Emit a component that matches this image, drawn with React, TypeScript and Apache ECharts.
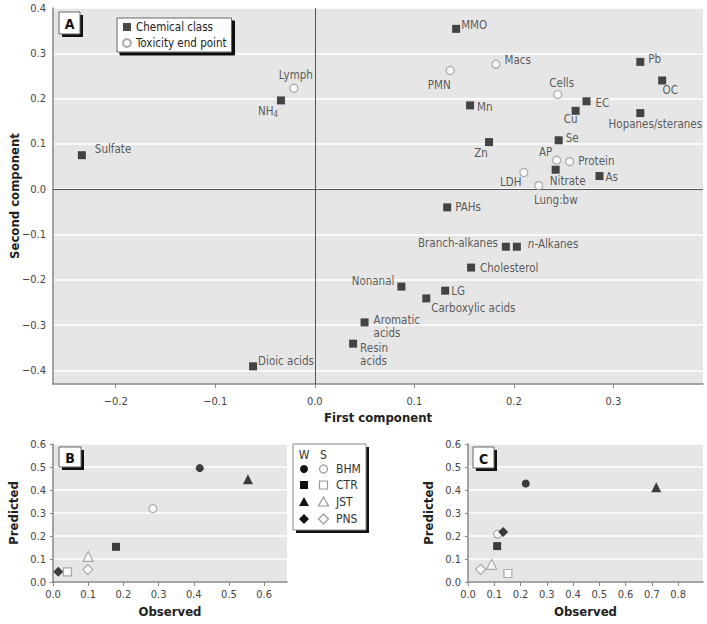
import React, { useEffect, useRef } from "react";
import * as echarts from "echarts";

const FONT = "'DejaVu Sans Condensed', 'DejaVu Sans', sans-serif";

// ---------- Panel A data ----------
const chemNames = ["MMO", "Pb", "OC", "EC", "Cu", "Hopanes/steranes", "Mn", "Zn", "Se", "Nitrate", "As", "PAHs", "NH4", "Sulfate", "Branch-alkanes", "n-Alkanes", "Cholesterol", "Nonanal", "LG", "Carboxylic acids", "Aromatic acids", "Resin acids", "Dioic acids"];
const chemX = [0.142, 0.327, 0.349, 0.273, 0.262, 0.327, 0.156, 0.175, 0.245, 0.242, 0.286, 0.133, -0.034, -0.234, 0.192, 0.203, 0.157, 0.087, 0.131, 0.112, 0.05, 0.0385, -0.062];
const chemY = [0.354, 0.281, 0.24, 0.194, 0.173, 0.168, 0.185, 0.104, 0.108, 0.043, 0.029, -0.04, 0.196, 0.075, -0.127, -0.127, -0.173, -0.215, -0.224, -0.241, -0.294, -0.341, -0.391];
const toxNames = ["Macs", "PMN", "Cells", "AP", "Protein", "LDH", "Lung:bw", "Lymph"];
const toxX = [0.182, 0.136, 0.244, 0.243, 0.256, 0.21, 0.225, -0.021];
const toxY = [0.276, 0.262, 0.209, 0.064, 0.061, 0.037, 0.008, 0.223];

// ---------- Panels B and C data ----------
const sites = ["BHM", "CTR", "JST", "PNS"];
const bWinterObs = [0.417, 0.179, 0.554, 0.015];
const bWinterPred = [0.495, 0.153, 0.447, 0.045];
const bSummerObs = [0.284, 0.041, 0.1, 0.099];
const bSummerPred = [0.319, 0.044, 0.111, 0.054];
const cWinterObs = [0.22, 0.111, 0.717, 0.134];
const cWinterPred = [0.428, 0.156, 0.412, 0.217];
const cSummerObs = [0.113, 0.152, 0.09, 0.048];
const cSummerPred = [0.208, 0.037, 0.077, 0.055];

// ---------- Tick values ----------
const aXTicks = [-0.2, -0.1, 0, 0.1, 0.2, 0.3];
const aYTicks = [-0.4, -0.3, -0.2, -0.1, 0, 0.1, 0.2, 0.3, 0.4];
const bXTicks = [0, 0.1, 0.2, 0.3, 0.4, 0.5, 0.6];
const cXTicks = [0, 0.1, 0.2, 0.3, 0.4, 0.5, 0.6, 0.7, 0.8];
const bcYTicks = [0, 0.1, 0.2, 0.3, 0.4, 0.5, 0.6];

// ---------- styling lookups (label placement) ----------
const labelPlace: Record<string, [string, number, number]> = {
  MMO: ["right", -2, -4],
  Pb: ["right", 1, -3],
  OC: ["bottom", 8, -4],
  EC: ["right", 2, 2],
  Cu: ["bottom", -5, -5],
  "Hopanes/steranes": ["bottom", 15, -2],
  Mn: ["right", 0, 2],
  Zn: ["bottom", -8, -2],
  Se: ["right", 0, -2],
  Nitrate: ["bottom", 12, -2],
  As: ["right", -1, 1],
  PAHs: ["right", 1, 0],
  NH4: ["bottom", -13, -3],
  Sulfate: ["right", 6, -6],
  "Branch-alkanes": ["left", -1, -4],
  "n-Alkanes": ["right", 4, -3],
  Cholesterol: ["right", 2, 0],
  Nonanal: ["left", 0, -6],
  LG: ["right", -1, 0],
  "Carboxylic acids": ["right", -2, 10],
  "Aromatic acids": ["right", 2, 4],
  "Resin acids": ["right", 0, 11],
  "Dioic acids": ["right", -2, -5],
  Macs: ["right", 1, -4],
  PMN: ["bottom", -11, 1],
  Cells: ["top", 4, 2],
  AP: ["top", -11, 6],
  Protein: ["right", 1, -1],
  LDH: ["bottom", -13, -4],
  "Lung:bw": ["bottom", 17, 1],
  Lymph: ["top", 2, 1],
};
const labelText: Record<string, string> = {
  NH4: "NH{sub|4}",
  "n-Alkanes": "{it|n}-Alkanes",
  "Aromatic acids": "Aromatic\nacids",
  "Resin acids": "Resin\nacids",
};

const siteSymbol: Record<string, string> = { BHM: "circle", CTR: "rect", JST: "triangle", PNS: "diamond" };
const siteSize: Record<string, number> = { BHM: 8, CTR: 8, JST: 10, PNS: 10 };

const fmt = (v: number) => (v < 0 ? "\u2212" : "") + Math.abs(v).toFixed(1);

function labelFor(n: string) {
  const p = labelPlace[n] || ["right", 0, 0];
  return { position: p[0], offset: [p[1], p[2]], distance: 3 };
}

const LBL = 11.5;
const baseLabel = {
  show: true,
  fontFamily: FONT,
  fontSize: LBL,
  color: "#333",
  lineHeight: 12.5,
  formatter: (p: any) => labelText[p.name] ?? p.name,
  rich: {
    sub: { fontFamily: FONT, fontSize: 8, color: "#333", padding: [7, 0, 0, 0] },
    it: { fontFamily: FONT, fontSize: LBL, color: "#333", fontStyle: "italic" },
  },
};

function xAxisCfg(gridIndex: number, min: number, max: number, ticks: number[], name: string, nameGap: number) {
  return {
    type: "value",
    gridIndex,
    min,
    max,
    name,
    nameLocation: "middle",
    nameGap,
    nameMoveOverlap: false,
    nameTextStyle: { fontFamily: FONT, fontWeight: "bold", fontSize: 13, color: "#222" },
    axisLine: { show: true, onZero: false, lineStyle: { color: "#888", width: 1.5 } },
    axisTick: { show: true, customValues: ticks, length: 4, lineStyle: { color: "#888" } },
    axisLabel: { customValues: ticks, formatter: fmt, fontFamily: FONT, fontSize: 11, color: "#444", margin: gridIndex === 0 ? 12 : 7 },
    splitLine: { show: false },
  };
}
function yAxisCfg(gridIndex: number, min: number, max: number, ticks: number[], name: string, nameGap: number) {
  return {
    type: "value",
    gridIndex,
    min,
    max,
    name,
    nameLocation: "middle",
    nameGap,
    nameMoveOverlap: false,
    nameTextStyle: { fontFamily: FONT, fontWeight: "bold", fontSize: 13, color: "#222" },
    axisLine: { show: true, onZero: false, lineStyle: { color: "#888", width: 1.5 } },
    axisTick: { show: gridIndex !== 0, customValues: ticks, length: 3, lineStyle: { color: "#888" } },
    axisLabel: { customValues: ticks, formatter: fmt, fontFamily: FONT, fontSize: 11, color: "#444", margin: 7 },
    splitLine: { show: true, lineStyle: { color: "#ffffff", width: 1.5 } },
  };
}

function panelBox(letter: string, x: number, y: number, w: number, h: number) {
  return [
    { type: "rect", z: 10, shape: { x: x + 3, y: y + 3, width: w, height: h }, style: { fill: "#111" } },
    { type: "rect", z: 11, shape: { x, y, width: w, height: h }, style: { fill: "#fff", stroke: "#666", lineWidth: 1 } },
    {
      type: "text", z: 12,
      style: { x: x + w / 2, y: y + h / 2 + 1, text: letter, align: "center", verticalAlign: "middle", fontFamily: FONT, fontWeight: "bold", fontSize: 14, fill: "#111" },
    },
  ];
}

function legendBC() {
  const x0 = 293, y0 = 444, w = 73, h = 86;
  const wx = 304, sx = 323.5, tx = 336;
  const rows = [469, 485, 502, 519];
  const filled = { fill: "#111" };
  const open = { fill: "#fff", stroke: "#999", lineWidth: 1.2 };
  const shapes = (cx: number, st: any) => [
    { type: "circle", z: 12, shape: { cx, cy: rows[0], r: 4 }, style: st },
    { type: "rect", z: 12, shape: { x: cx - 4, y: rows[1] - 4, width: 8, height: 8 }, style: st },
    { type: "polygon", z: 12, shape: { points: [[cx, rows[2] - 5], [cx + 5, rows[2] + 4], [cx - 5, rows[2] + 4]] }, style: st },
    { type: "polygon", z: 12, shape: { points: [[cx, rows[3] - 5], [cx + 5, rows[3]], [cx, rows[3] + 5], [cx - 5, rows[3]]] }, style: st },
  ];
  const txt = (x: number, y: number, t: string, align = "left") => ({
    type: "text", z: 12,
    style: { x, y, text: t, align, verticalAlign: "middle", fontFamily: FONT, fontSize: 12, fill: "#333" },
  });
  return [
    { type: "rect", z: 10, shape: { x: x0 + 3, y: y0 + 3, width: w, height: h }, style: { fill: "#111" } },
    { type: "rect", z: 11, shape: { x: x0, y: y0, width: w, height: h }, style: { fill: "#fff", stroke: "#888", lineWidth: 1 } },
    txt(wx, 455, "W", "center"),
    txt(sx, 455, "S", "center"),
    ...shapes(wx, filled),
    ...shapes(sx, open),
    ...sites.map((s, i) => txt(tx, rows[i], s)),
  ];
}

function siteData(obs: number[], pred: number[]) {
  return sites.map((s, i) => ({ name: s, value: [obs[i], pred[i]], symbol: siteSymbol[s], symbolSize: siteSize[s] }));
}

export default function App() {
  const ref = useRef<HTMLDivElement>(null);
  useEffect(() => {
    if (!ref.current) return;
    const chart = echarts.init(ref.current, undefined, { renderer: "svg" });
    const gridBase = { show: true, backgroundColor: "#e6e6e6", borderWidth: 0, outerBoundsMode: "none", containLabel: false };
    const openStyle = { color: "#ffffff", borderColor: "#999999", borderWidth: 1.2 };
    const option: any = {
      animation: false,
      backgroundColor: "#ffffff",
      textStyle: { fontFamily: FONT },
      grid: [
        { ...gridBase, left: 53, top: 8, width: 650, height: 376 },
        { ...gridBase, left: 53, top: 444, width: 234, height: 138 },
        { ...gridBase, left: 468, top: 444, width: 235, height: 138 },
      ],
      xAxis: [
        xAxisCfg(0, -0.263, 0.39, aXTicks, "First component", 27),
        xAxisCfg(1, 0, 0.665, bXTicks, "Observed", 23),
        xAxisCfg(2, 0, 0.895, cXTicks, "Observed", 23),
      ],
      yAxis: [
        yAxisCfg(0, -0.43, 0.4, aYTicks, "Second component", 32),
        yAxisCfg(1, 0, 0.6, bcYTicks, "Predicted", 33),
        yAxisCfg(2, 0, 0.6, bcYTicks, "Predicted", 33),
      ],
      legend: {
        data: ["Chemical class", "Toxicity end point"],
        orient: "vertical",
        left: 117,
        top: 18,
        itemWidth: 8,
        itemHeight: 8,
        itemGap: 4,
        itemTextGap: 6,
        padding: [3, 5, 3, 5],
        backgroundColor: "#ffffff",
        borderColor: "#666",
        borderWidth: 1,
        shadowColor: "#111",
        shadowBlur: 0,
        shadowOffsetX: 3,
        shadowOffsetY: 3,
        textStyle: { fontFamily: FONT, fontSize: 11.5, color: "#222" },
        z: 12,
      },
      graphic: [
        ...panelBox("A", 59, 12, 21, 22),
        ...panelBox("B", 59, 447, 22, 20),
        ...panelBox("C", 473, 447, 21, 21),
        ...legendBC(),
      ],
      series: [
        {
          type: "scatter",
          name: "Chemical class",
          xAxisIndex: 0,
          yAxisIndex: 0,
          symbol: "rect",
          symbolSize: 8,
          itemStyle: { color: "#1a1a1a" },
          label: baseLabel,
          data: chemNames.map((n, i) => ({ name: n, value: [chemX[i], chemY[i]], label: labelFor(n) })),
          markLine: {
            silent: true,
            z: 1,
            symbol: ["none", "none"],
            label: { show: false },
            lineStyle: { color: "#555", width: 1, type: "solid" },
            data: [{ xAxis: 0 }, { yAxis: 0 }],
          },
        },
        {
          type: "scatter",
          name: "Toxicity end point",
          xAxisIndex: 0,
          yAxisIndex: 0,
          symbol: "circle",
          symbolSize: 8,
          itemStyle: openStyle,
          label: baseLabel,
          data: toxNames.map((n, i) => ({ name: n, value: [toxX[i], toxY[i]], label: labelFor(n) })),
        },
        { type: "scatter", name: "B summer", xAxisIndex: 1, yAxisIndex: 1, itemStyle: openStyle, data: siteData(bSummerObs, bSummerPred) },
        { type: "scatter", name: "B winter", xAxisIndex: 1, yAxisIndex: 1, itemStyle: { color: "#111" }, data: siteData(bWinterObs, bWinterPred) },
        { type: "scatter", name: "C summer", xAxisIndex: 2, yAxisIndex: 2, itemStyle: openStyle, data: siteData(cSummerObs, cSummerPred) },
        { type: "scatter", name: "C winter", xAxisIndex: 2, yAxisIndex: 2, itemStyle: { color: "#111" }, data: siteData(cWinterObs, cWinterPred) },
      ],
    };
    chart.setOption(option);
    return () => chart.dispose();
  }, []);
  return <div ref={ref} style={{ position: "absolute", left: 0, top: 0, width: 707, height: 624 }} />;
}
